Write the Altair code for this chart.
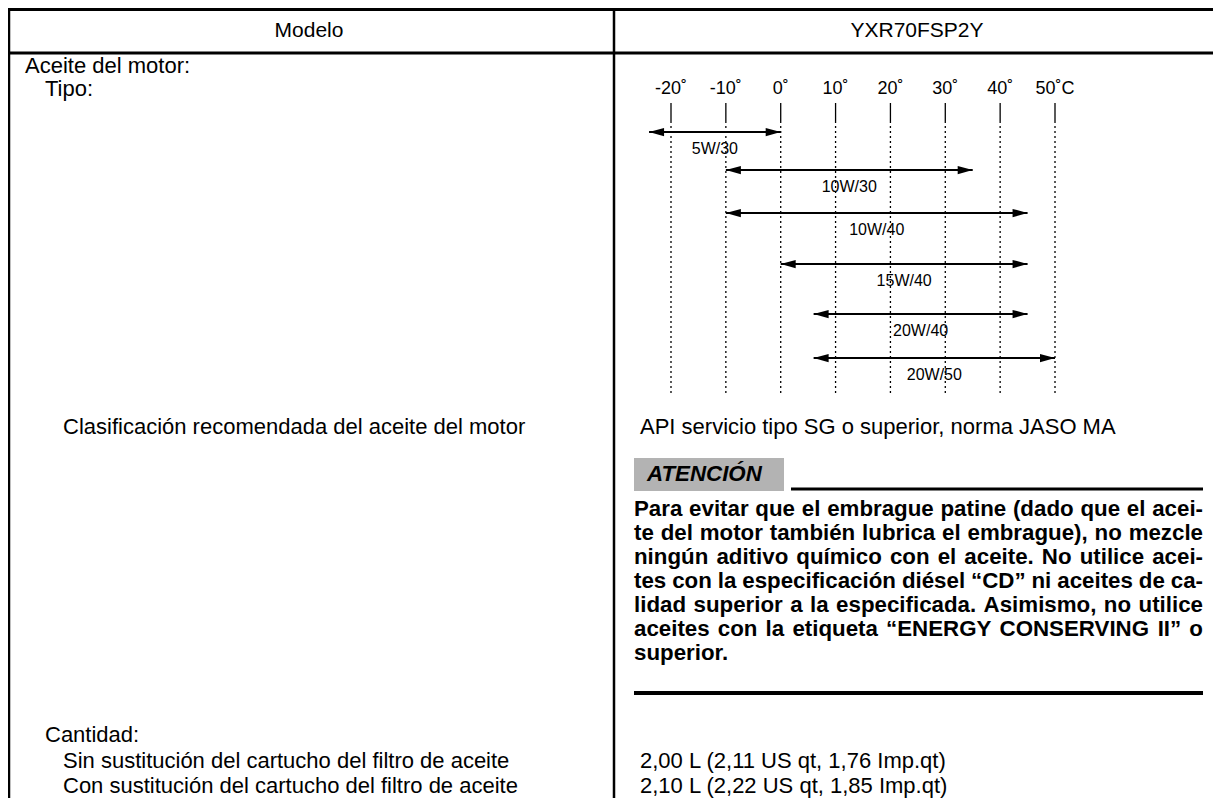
import altair as alt
import pandas as pd

# ---------------- data ----------------
HEADER_LEFT = "Modelo"
HEADER_RIGHT = "YXR70FSP2Y"

LEFT_LABELS = [
    "Aceite del motor:",
    "Tipo:",
    "Clasificación recomendada del aceite del motor",
    "Cantidad:",
    "Sin sustitución del cartucho del filtro de aceite",
    "Con sustitución del cartucho del filtro de aceite",
]
RIGHT_VALUES = [
    "API servicio tipo SG o superior, norma JASO MA",
    "2,00 L (2,11 US qt, 1,76 Imp.qt)",
    "2,10 L (2,22 US qt, 1,85 Imp.qt)",
]

TEMP_TICKS = [-20, -10, 0, 10, 20, 30, 40, 50]
TEMP_LABELS = ["-20˚", "-10˚", "0˚", "10˚", "20˚", "30˚", "40˚", "50˚C"]

OIL_GRADES = ["5W/30", "10W/30", "10W/40", "15W/40", "20W/40", "20W/50"]
OIL_MIN = [-24, -10, -10, 0, 6, 6]
OIL_MAX = [0, 35, 45, 45, 45, 50]

CAUTION_TITLE = "ATENCIÓN"
CAUTION_LINES = [
    "Para evitar que el embrague patine (dado que el acei-",
    "te del motor también lubrica el embrague), no mezcle",
    "ningún aditivo químico con el aceite. No utilice acei-",
    "tes con la especificación diésel “CD” ni aceites de ca-",
    "lidad superior a la especificada. Asimismo, no utilice",
    "aceites con la etiqueta “ENERGY CONSERVING II” o",
    "superior.",
]

# ---------------- layout (page pixels of the reference) ----------------
W, H = 1205, 790
X0, Y0 = 8, 7
FONT = "Liberation Sans"
FS = 22
FS_BOLD = 22.3

LEFT_X = [25, 45, 63, 45, 63, 63]
LEFT_Y = [65, 88, 426, 734, 760, 785]
RIGHT_X = [640, 640, 640]
RIGHT_Y = [426, 760, 785]

TEMP_RANGE = [671, 1055]
ARROW_Y = [131, 169, 212, 263, 313, 357]
LABEL_DY = 17

PARA_X0, PARA_X1 = 634, 1203
PARA_Y = [508, 532, 556, 580, 604, 628, 652]

xs = alt.Scale(domain=[X0, X0 + W], range=[0, W], nice=False, zero=False)
ys = alt.Scale(domain=[Y0, Y0 + H], range=[0, H], nice=False, zero=False)
ts = alt.Scale(domain=[TEMP_TICKS[0], TEMP_TICKS[-1]],
               range=[TEMP_RANGE[0] - X0, TEMP_RANGE[1] - X0], nice=False, zero=False)

# table rules
rules = pd.DataFrame([
    dict(x=5, x2=1221, y=8.5, y2=8.5, w=3),
    dict(x=5, x2=1221, y=52, y2=52, w=3),
    dict(x=9, x2=9, y=7, y2=806, w=2.5),
    dict(x=614, x2=614, y=7, y2=806, w=2.5),
    dict(x=791, x2=1203, y=488, y2=488, w=3),
    dict(x=634, x2=1203, y=692, y2=692, w=4),
])
rule_layer = alt.Chart(rules).mark_rule(color="black").encode(
    x=alt.X("x:Q", scale=xs, axis=None), x2="x2:Q",
    y=alt.Y("y:Q", scale=ys, axis=None), y2="y2:Q",
    strokeWidth=alt.StrokeWidth("w:Q", scale=None),
)

box = pd.DataFrame([dict(x=634, x2=784, y=457, y2=490)])
box_layer = alt.Chart(box).mark_rect(color="#b3b3b3").encode(
    x=alt.X("x:Q", scale=xs, axis=None), x2="x2:Q",
    y=alt.Y("y:Q", scale=ys, axis=None), y2="y2:Q",
)

# regular text, left aligned
left_rows = [dict(t=t, x=x, y=y) for t, x, y in zip(LEFT_LABELS, LEFT_X, LEFT_Y)]
left_rows += [dict(t=t, x=x, y=y) for t, x, y in zip(RIGHT_VALUES, RIGHT_X, RIGHT_Y)]
text_left = alt.Chart(pd.DataFrame(left_rows)).mark_text(
    align="left", baseline="middle", font=FONT, fontSize=FS, color="black"
).encode(
    x=alt.X("x:Q", scale=xs, axis=None), y=alt.Y("y:Q", scale=ys, axis=None), text="t:N"
)

head = pd.DataFrame([dict(t=HEADER_LEFT, x=309, y=30), dict(t=HEADER_RIGHT, x=917, y=30)])
text_head = alt.Chart(head).mark_text(
    align="center", baseline="middle", font=FONT, fontSize=21, color="black"
).encode(
    x=alt.X("x:Q", scale=xs, axis=None), y=alt.Y("y:Q", scale=ys, axis=None), text="t:N"
)

title_layer = alt.Chart(pd.DataFrame([dict(t=CAUTION_TITLE, x=647, y=473)])).mark_text(
    align="left", baseline="middle", font=FONT, fontSize=FS_BOLD, fontWeight="bold",
    fontStyle="italic", color="black"
).encode(
    x=alt.X("x:Q", scale=xs, axis=None), y=alt.Y("y:Q", scale=ys, axis=None), text="t:N"
)

# justified bold paragraph: word placement from Helvetica-Bold advance widths
BW = {}
for c, w in zip("abcdefghijklmnopqrstuvwxyz",
                [556, 611, 556, 611, 556, 333, 611, 611, 278, 278, 556, 278, 889,
                 611, 611, 611, 611, 389, 556, 333, 611, 556, 778, 556, 556, 500]):
    BW[c] = w
for c, w in zip("ABCDEFGHIJKLMNOPQRSTUVWXYZ",
                [722, 722, 722, 722, 667, 611, 778, 722, 278, 556, 722, 611, 833,
                 722, 778, 667, 778, 722, 667, 611, 722, 667, 944, 667, 667, 611]):
    BW[c] = w
BW.update({" ": 278, "(": 333, ")": 333, ",": 278, "-": 333, ".": 278,
           "“": 500, "”": 500, "á": 556, "é": 556, "í": 278, "ó": 611, "ú": 611})


def word_w(s):
    return sum(BW.get(c, 556) for c in s) * FS_BOLD / 1000.0


words = []
for i, (line, y) in enumerate(zip(CAUTION_LINES, PARA_Y)):
    ws = line.split(" ")
    widths = [word_w(s) for s in ws]
    last = i == len(CAUTION_LINES) - 1
    if last or len(ws) < 2:
        gap = word_w(" ")
    else:
        gap = (PARA_X1 - PARA_X0 - sum(widths)) / (len(ws) - 1)
    x = PARA_X0
    for s, wd in zip(ws, widths):
        words.append(dict(t=s, x=x, y=y))
        x += wd + gap
para_layer = alt.Chart(pd.DataFrame(words)).mark_text(
    align="left", baseline="middle", font=FONT, fontSize=FS_BOLD, fontWeight="bold", color="black"
).encode(
    x=alt.X("x:Q", scale=xs, axis=None), y=alt.Y("y:Q", scale=ys, axis=None), text="t:N"
)

# temperature diagram
ticks = pd.DataFrame(dict(temp=TEMP_TICKS, lab=TEMP_LABELS))
tick_solid = alt.Chart(ticks).mark_rule(color="black", strokeWidth=1.3).encode(
    x=alt.X("temp:Q", scale=ts, axis=None),
    y=alt.Y("a:Q", scale=ys, axis=None), y2="b:Q",
).transform_calculate(a="102", b="120")
tick_dot = alt.Chart(ticks).mark_rule(color="black", strokeWidth=1.3, strokeDash=[2, 3]).encode(
    x=alt.X("temp:Q", scale=ts, axis=None),
    y=alt.Y("a:Q", scale=ys, axis=None), y2="b:Q",
).transform_calculate(a="120", b="393")
tick_lab = alt.Chart(ticks).mark_text(
    align="center", baseline="middle", font=FONT, fontSize=18, color="black"
).encode(
    x=alt.X("temp:Q", scale=ts, axis=None),
    y=alt.Y("a:Q", scale=ys, axis=None), text="lab:N",
).transform_calculate(a="88")

oils = pd.DataFrame(dict(grade=OIL_GRADES, lo=OIL_MIN, hi=OIL_MAX, y=ARROW_Y))
oils["ly"] = oils["y"] + LABEL_DY
arrow_line = alt.Chart(oils).mark_rule(color="black", strokeWidth=2).encode(
    x=alt.X("lo:Q", scale=ts, axis=None), x2="hi:Q",
    y=alt.Y("y:Q", scale=ys, axis=None),
)
head_r = alt.Chart(oils).mark_point(
    shape="M-1,-0.55L1,0L-1,0.55Z", filled=True, color="black", opacity=1, size=225,
    strokeWidth=0, xOffset=-7.5
).encode(x=alt.X("hi:Q", scale=ts, axis=None), y=alt.Y("y:Q", scale=ys, axis=None))
head_l = alt.Chart(oils).mark_point(
    shape="M1,-0.55L-1,0L1,0.55Z", filled=True, color="black", opacity=1, size=225,
    strokeWidth=0, xOffset=7.5
).encode(x=alt.X("lo:Q", scale=ts, axis=None), y=alt.Y("y:Q", scale=ys, axis=None))
oil_lab = alt.Chart(oils).mark_text(
    align="center", baseline="middle", font=FONT, fontSize=16, color="black"
).encode(
    x=alt.X("mid:Q", scale=ts, axis=None),
    y=alt.Y("ly:Q", scale=ys, axis=None), text="grade:N",
).transform_calculate(mid="(datum.lo + datum.hi) / 2")

chart = alt.layer(
    box_layer, rule_layer, text_head, text_left, title_layer, para_layer,
    tick_dot, tick_solid, tick_lab, arrow_line, head_r, head_l, oil_lab,
).resolve_scale(x="independent").properties(
    width=W, height=H, autosize=alt.AutoSizeParams(type="none"), padding=0,
).configure_view(stroke=None).configure(background="white")

chart.save("out.html", embed_options={"renderer": "svg", "actions": False})
